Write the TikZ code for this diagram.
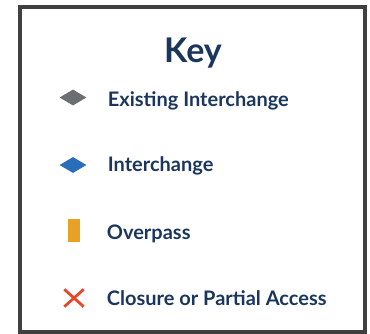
\documentclass[tikz,border=0pt]{standalone}
\usepackage{fontspec}
\setmainfont{Lato}
\usetikzlibrary{shapes.geometric}
\definecolor{navy}{HTML}{1B365D}
\definecolor{frame}{HTML}{404040}
\definecolor{exgray}{HTML}{6D6E71}
\definecolor{icblue}{HTML}{2A6EBB}
\definecolor{ovorange}{HTML}{E9A124}
\definecolor{xred}{HTML}{E8452C}
\begin{document}
\begin{tikzpicture}[x=1pt,y=1pt,
  label/.style={anchor=base west,inner sep=0pt,text=navy,font=\fontsize{20}{23}\selectfont\bfseries},
  dia/.style={diamond,minimum width=27pt,minimum height=16pt,inner sep=0pt,draw=none}]
\useasboundingbox (0,0) rectangle (370,333);
\draw[frame,line width=4pt] (19.5,326) rectangle (365,1.5);
\node[anchor=base,inner sep=0pt,text=navy,font=\fontsize{34}{38}\selectfont\bfseries] (key) at (193,271) {Key};
\node[dia,fill=exgray] (d1) at (73,235.5) {};
\node[label] (t1) at (107.7,227) {Existing Interchange};
\node[dia,fill=icblue] (d2) at (73,168) {};
\node[label] (t2) at (107.7,161.5) {Interchange};
\node[fill=ovorange,minimum width=12pt,minimum height=23pt,inner sep=0pt] (ov) at (74,102.5) {};
\node[label] (t3) at (106.7,94) {Overpass};
\node[inner sep=0pt,minimum width=19pt,minimum height=17pt] (x) at (74,35) {};
\draw[xred,line width=2.8pt] (x.north west) -- (x.south east) (x.north east) -- (x.south west);
\node[label] (t4) at (106.7,27.5) {Closure or Partial Access};
\end{tikzpicture}
\end{document}
